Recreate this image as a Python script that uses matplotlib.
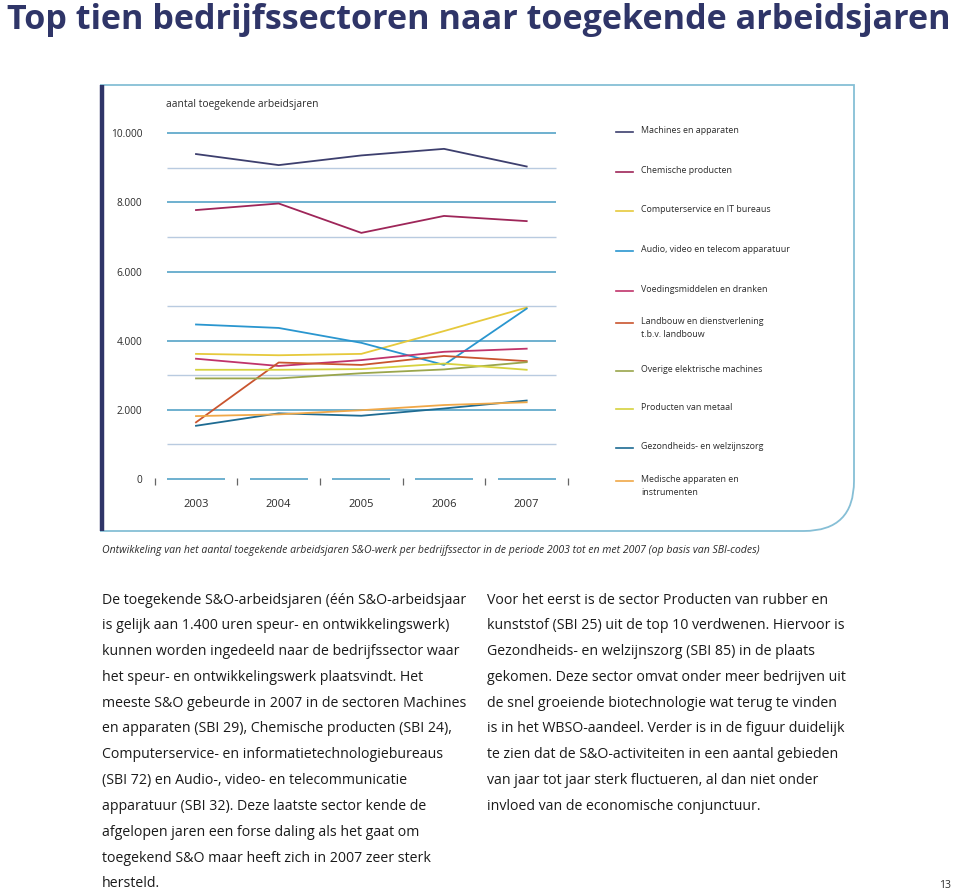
import matplotlib
matplotlib.use("Agg")
import matplotlib.pyplot as plt
from matplotlib.path import Path
from matplotlib.patches import PathPatch


YEARS = [2003, 2004, 2005, 2006, 2007]

SECTORS = [
    "Machines en apparaten",
    "Chemische producten",
    "Computerservice en IT bureaus",
    "Audio, video en telecom apparatuur",
    "Voedingsmiddelen en dranken",
    "Landbouw en dienstverlening\nt.b.v. landbouw",
    "Overige elektrische machines",
    "Producten van metaal",
    "Gezondheids- en welzijnszorg",
    "Medische apparaten en\ninstrumenten",
]

machines = [9400, 9080, 9360, 9550, 9040]
chemische = [7780, 7970, 7120, 7610, 7460]
computerservice = [3620, 3580, 3620, 4280, 4960]
audio_video = [4470, 4370, 3940, 3300, 4930]
voeding = [3480, 3270, 3440, 3680, 3770]
landbouw = [1640, 3370, 3300, 3560, 3410]
overige_elektrisch = [2910, 2910, 3060, 3170, 3380]
metaal = [3160, 3160, 3180, 3340, 3160]
gezondheid = [1540, 1900, 1830, 2040, 2270]
medisch = [1820, 1870, 1990, 2140, 2220]

SERIES = [machines, chemische, computerservice, audio_video, voeding,
          landbouw, overige_elektrisch, metaal, gezondheid, medisch]

COLORS = ["#3d3f6e", "#9e2659", "#e6c93c", "#2a96cf", "#c0346b",
          "#c9552f", "#9aa64c", "#d6d23e", "#1e6b92", "#f0a848"]

Y_TICKS = [0, 2000, 4000, 6000, 8000, 10000]
GRID_MAJOR = [2000, 4000, 6000, 8000, 10000]
GRID_MINOR = [1000, 3000, 5000, 7000, 9000]

TITLE = "Top tien bedrijfssectoren naar toegekende arbeidsjaren"
Y_LABEL = "aantal toegekende arbeidsjaren"
CAPTION = ("Ontwikkeling van het aantal toegekende arbeidsjaren S&O-werk per "
           "bedrijfssector in de periode 2003 tot en met 2007 (op basis van SBI-codes)")

LEFT_TEXT = [
    "De toegekende S&O-arbeidsjaren (één S&O-arbeidsjaar",
    "is gelijk aan 1.400 uren speur- en ontwikkelingswerk)",
    "kunnen worden ingedeeld naar de bedrijfssector waar",
    "het speur- en ontwikkelingswerk plaatsvindt. Het",
    "meeste S&O gebeurde in 2007 in de sectoren Machines",
    "en apparaten (SBI 29), Chemische producten (SBI 24),",
    "Computerservice- en informatietechnologiebureaus",
    "(SBI 72) en Audio-, video- en telecommunicatie",
    "apparatuur (SBI 32). Deze laatste sector kende de",
    "afgelopen jaren een forse daling als het gaat om",
    "toegekend S&O maar heeft zich in 2007 zeer sterk",
    "hersteld.",
]
RIGHT_TEXT = [
    "Voor het eerst is de sector Producten van rubber en",
    "kunststof (SBI 25) uit de top 10 verdwenen. Hiervoor is",
    "Gezondheids- en welzijnszorg (SBI 85) in de plaats",
    "gekomen. Deze sector omvat onder meer bedrijven uit",
    "de snel groeiende biotechnologie wat terug te vinden",
    "is in het WBSO-aandeel. Verder is in de figuur duidelijk",
    "te zien dat de S&O-activiteiten in een aantal gebieden",
    "van jaar tot jaar sterk fluctueren, al dan niet onder",
    "invloed van de economische conjunctuur.",
]

NAVY = "#2f3568"
FRAME = "#86bfd6"
TEXT = "#2b2b2b"
FONT = "Open Sans"


def fmt(v):
    return f"{v:,}".replace(",", ".")


def main():
    fig = plt.figure(figsize=(9.6, 8.96), dpi=100)

    # page layer in pixel coordinates
    page = fig.add_axes([0, 0, 1, 1])
    page.set_xlim(0, 960)
    page.set_ylim(896, 0)
    page.axis("off")

    page.text(7, 20, TITLE, fontsize=24.6, fontweight="bold", color=NAVY,
              family=FONT, va="center", ha="left")

    # frame with rounded bottom-right corner
    r = 50
    verts = [(100, 85), (854, 85), (854, 531 - r), (854, 531), (854 - r, 531), (100, 531)]
    codes = [Path.MOVETO, Path.LINETO, Path.LINETO, Path.CURVE3, Path.CURVE3, Path.LINETO]
    page.add_patch(PathPatch(Path(verts, codes), fill=False, edgecolor=FRAME, lw=1.3))
    page.plot([102, 102], [85, 531], color=NAVY, lw=3.2, solid_capstyle="butt")

    page.text(166, 104, Y_LABEL, fontsize=7.4, color=TEXT, family=FONT, va="center")

    # legend, drawn by hand to follow the page layout
    legend_y = [132, 172, 211, 251, 291, 323, 371, 409, 448, 481]
    for name, color, y in zip(SECTORS, COLORS, legend_y):
        page.plot([616, 633], [y, y], color=color, lw=1.2)
        page.text(641, y - 6, name, fontsize=6.4, color=TEXT, family=FONT,
                  va="top", ha="left", linespacing=1.6)

    page.text(102, 550, CAPTION, fontsize=7.6, style="italic", color=TEXT,
              family=FONT, va="center")

    line_h = 25.8
    for i, line in enumerate(LEFT_TEXT):
        page.text(102, 600 + i * line_h, line, fontsize=10.2, color="#1a1a1a",
                  family=FONT, va="center")
    for i, line in enumerate(RIGHT_TEXT):
        page.text(487, 600 + i * line_h, line, fontsize=10.2, color="#1a1a1a",
                  family=FONT, va="center")
    page.text(951, 886, "13", fontsize=7.5, color=TEXT, family=FONT,
              ha="right", va="center")

    # chart
    ax = fig.add_axes([0.1568, 0.4538, 0.4435, 0.409])
    ax.patch.set_alpha(0)
    ax.set_xlim(2002.45, 2007.6)
    ax.set_ylim(-300, 10300)
    for s in ax.spines.values():
        s.set_visible(False)

    x0, x1 = YEARS[0] - 0.35, YEARS[-1] + 0.35
    ax.hlines(GRID_MINOR, x0, x1, color="#b9cbe0", lw=1.0, zorder=1)
    ax.hlines(GRID_MAJOR, x0, x1, color="#62aacb", lw=1.3, zorder=1)
    for yr in YEARS:
        ax.hlines(0, yr - 0.35, yr + 0.35, color="#62aacb", lw=1.3, zorder=1)
    half = [yr - 0.5 for yr in YEARS] + [YEARS[-1] + 0.5]
    ax.vlines(half, -170, 40, color="#666666", lw=0.9)

    for values, color in zip(SERIES, COLORS):
        ax.plot(YEARS, values, color=color, lw=1.3, zorder=3)

    ax.set_xticks([])
    ax.set_yticks(Y_TICKS)
    ax.set_yticklabels([fmt(v) for v in Y_TICKS], fontsize=7.3, color=TEXT,
                       family=FONT)
    ax.tick_params(axis="y", length=0, pad=6)

    for yr in YEARS:
        ax.text(yr, -750, str(yr), fontsize=8, color=TEXT, family=FONT,
                ha="center", va="center")

    fig.savefig("out.png", dpi=100)
    plt.close(fig)


if __name__ == "__main__":
    main()
